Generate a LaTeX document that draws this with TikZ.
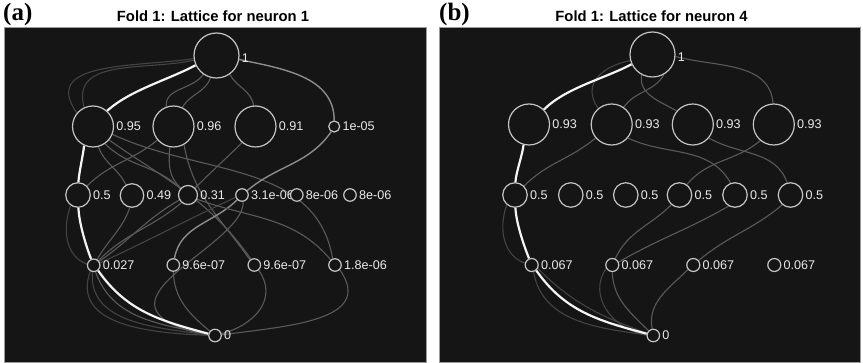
\documentclass[tikz,border=0pt]{standalone}
\usepackage{fontspec}
\setmainfont{Liberation Sans}
\newfontfamily\serifbold{Liberation Serif}
\definecolor{panelbg}{HTML}{151515}
\definecolor{panelborder}{HTML}{9A9A9A}
\definecolor{nodeline}{HTML}{C4C4C4}
\definecolor{lblcol}{HTML}{EAEAEA}
\definecolor{edgegray}{HTML}{5A5A5A}
\definecolor{edgebright}{HTML}{8C8C8C}
\definecolor{edgefaint}{HTML}{444444}
\definecolor{edgewhite}{HTML}{F4F4F4}
\pgfdeclarelayer{bglayer}
\pgfdeclarelayer{edgelayer}
\pgfsetlayers{bglayer,edgelayer,main}
\newcommand\mkn[4]{\node[nd=#2] (#1) at (#3) {};
  \node[lbl] (#1-l) at ([xshift=1.5pt]#1.east) {#4};}
\begin{document}
\begin{tikzpicture}[x=1pt,y=-1pt,
  panel/.style={fill=panelbg, draw=panelborder, line width=0.8pt},
  nd/.style={circle, draw=nodeline, fill=panelbg, line width=1.2pt, inner sep=0pt, minimum size=#1},
  lbl/.style={text=lblcol, font=\fontsize{12.6}{13}\selectfont, inner sep=0.5pt, anchor=west},
  ttl/.style={font=\bfseries\fontsize{14.8}{15}\selectfont, inner sep=0pt, anchor=base},
  tag/.style={font=\serifbold\bfseries\fontsize{25}{25}\selectfont, inner sep=0pt, anchor=base west},
  eg/.style={draw=edgegray, line width=1.1pt},
  eb/.style={draw=edgebright, line width=1.4pt},
  ef/.style={draw=edgefaint, line width=1.1pt},
  ew/.style={draw=edgewhite, line width=2.2pt}]
\useasboundingbox (0,0) rectangle (863,363);
\begin{pgfonlayer}{bglayer}
  \fill[white] (0,0) rectangle (863,363);
  \draw[panel] (3.9,27) rectangle (426,362.4);
  \draw[panel] (439.5,27) rectangle (860.5,362.4);
\end{pgfonlayer}
% titles
\node[tag] (taga) at (3,20.5) {(a)};
\node[ttl] (ttla) at (213,22) {Fold 1: Lattice for neuron 1};
\node[tag] (tagb) at (439,20.5) {(b)};
\node[ttl] (ttlb) at (651.5,22) {Fold 1: Lattice for neuron 4};
% ---------- panel (a) nodes ----------
\node[nd=45pt] (T) at (216.5,55.5) {};
\node[lbl] (T-l) at ([xshift=1.5pt,yshift=-2.5pt]T.east) {1};
\mkn{A1}{41pt}{93,126.5}{0.95}
\mkn{A2}{41pt}{173.5,126.5}{0.96}
\mkn{A3}{41pt}{255.5,126.5}{0.91}
\mkn{A4}{11pt}{334.2,126.5}{1e-05}
\mkn{B1}{24.5pt}{78,195}{0.5}
\mkn{B2}{23.5pt}{132,195.5}{0.49}
\mkn{B3}{19pt}{188,195}{0.31}
\mkn{B4}{12.5pt}{242,195}{3.1e-06}
\mkn{B5}{12.5pt}{296.8,195}{8e-06}
\mkn{B6}{12.5pt}{350,195}{8e-06}
\mkn{C1}{12.5pt}{93.7,265.3}{0.027}
\mkn{C2}{12.5pt}{173.3,265}{9.6e-07}
\mkn{C3}{12.5pt}{254.3,265}{9.6e-07}
\mkn{C4}{12.5pt}{335,265}{1.8e-06}
\mkn{Z}{12.5pt}{215,335.5}{0}
% ---------- panel (b) nodes ----------
\node[nd=45pt] (U) at (652.5,54.5) {};
\node[lbl] (U-l) at ([xshift=1.5pt,yshift=-2.5pt]U.east) {1};
\mkn{D1}{41pt}{529,124.5}{0.93}
\mkn{D2}{41pt}{611.7,124.5}{0.93}
\mkn{D3}{41pt}{692.8,124.5}{0.93}
\mkn{D4}{41pt}{773.8,124.5}{0.93}
\mkn{E1}{24.5pt}{515,195}{0.5}
\mkn{E2}{24.5pt}{570.8,195}{0.5}
\mkn{E3}{24.5pt}{625.8,195}{0.5}
\mkn{E4}{24.5pt}{679.5,195}{0.5}
\mkn{E5}{24.5pt}{735,195}{0.5}
\mkn{E6}{24.5pt}{790.5,195}{0.5}
\mkn{F1}{13pt}{531.7,265}{0.067}
\mkn{F2}{13pt}{612.3,265}{0.067}
\mkn{F3}{13pt}{693.3,265}{0.067}
\mkn{F4}{13pt}{774.3,265}{0.067}
\mkn{Y}{12.5pt}{653.3,335.5}{0}
% ---------- panel (a) edges ----------
\begin{pgfonlayer}{edgelayer}
% top level
\draw[ef] (T.188) to[out=188,in=125,looseness=1.25] (A1.140);
\draw[ef] (T.192) to[out=192,in=105,looseness=1.1] (A1.115);
\draw[eg] (T.235) to[out=235,in=95] (A2.110);
\draw[eg] (T.255) to[out=250,in=60] (A2.65);
\draw[eg] (T.-55) to[out=-60,in=100] (A3.95);
\draw[eb] (T.-10) to[out=-12,in=90] (A4.90);
% level 2 -> 3
\draw[eg] (A1.-75) to[out=-70,in=115] (B2.120);
\draw[eg] (A1.-55) to[out=-45,in=135] (B3.140);
\draw[eg] (A1.-40) to[out=-35,in=125] (C3.120);
\draw[eg] (A1.-22) to[out=-25,in=100] (C4.110);
\draw[eg] (A2.-140) to[out=-140,in=45] (B1.45);
\draw[eg] (A2.-100) to[out=-95,in=140] (B3.135);
\draw[eg] (A2.-60) to[out=-80,in=125] (C3.130);
\draw[eg] (A3.-130) to[out=-135,in=45] (B3.45);
\draw[eb] (A4.-120) to[out=-125,in=40] (B4.40);
% level 3 -> 4
\draw[ef] (B1.-125) to[out=-110,in=160] (C1.170);
\draw[eg] (B2.-100) to[out=-110,in=60] (C1.60);
\draw[eg] (B3.-150) to[out=-150,in=35] (C1.35);
\draw[eg] (B3.-130) to[out=-140,in=45] (C1.45);
\draw[ef] (B4.-160) to[out=-155,in=25] (C1.20);
\draw[eb] (B4.-135) to[out=-135,in=80] (C2.80);
\draw[eg] (B3.-25) to[out=-20,in=130] (C4.130);
\draw[eg] (B4.-80) .. controls +(2,45) and +(-139,-30) .. (Z.180);
% level 4 -> bottom
\draw[ef] (C1.-100) to[out=-95,in=172] (Z.175);
\draw[ef] (C1.-120) to[out=-110,in=178,looseness=1.1] (Z.178);
\draw[eg] (C1.-75) to[out=-70,in=168] (Z.170);
\draw[eg] (C2.-90) to[out=-88,in=140] (Z.140);
\draw[eg] (C3.-50) to[out=-55,in=15,looseness=1.2] (Z.15);
\draw[eg] (C4.-45) to[out=-55,in=8,looseness=1.2] (Z.5);
% white path
\draw[ew] (T.205) to[out=208,in=42,looseness=0.8] (A1.48);
\draw[ew] (A1.-115) to[out=-95,in=88,looseness=0.6] (B1.88);
\draw[ew] (B1.-88) to[out=-88,in=112,looseness=0.7] (C1.112);
\draw[ew] (C1.-50) to[out=-55,in=165] (Z.165);
% ---------- panel (b) edges ----------
\draw[ef] (U.195) to[out=192,in=125,looseness=1.3] (D2.130);
\draw[eg] (U.-60) to[out=-120,in=55] (D2.55);
\draw[eg] (U.-118) to[out=-100,in=150] (D3.140);
\draw[eg] (U.-5) to[out=-15,in=95] (D4.92);
\draw[eg] (D2.-140) to[out=-140,in=45] (E1.45);
\draw[eg] (D2.-40) to[out=-25,in=120] (E5.110);
\draw[eg] (D3.-40) to[out=-30,in=110] (E6.105);
\draw[eg] (D4.-130) to[out=-140,in=50] (E4.55);
\draw[ef] (E1.-130) to[out=-110,in=160] (F1.165);
\draw[eg] (E4.-130) to[out=-135,in=65] (F2.65);
\draw[eg] (E5.-120) to[out=-150,in=30] (F2.25);
\draw[eg] (E6.-130) to[out=-140,in=40] (F3.40);
\draw[ef] (F1.-75) to[out=-80,in=172] (Y.175);
\draw[ef] (F1.-30) to[out=-45,in=160] (Y.160);
\draw[eg] (F2.-90) to[out=-88,in=135] (Y.135);
\draw[ef] (F2.-150) to[out=-125,in=172,looseness=1.1] (Y.175);
\draw[eg] (F3.-140) to[out=-135,in=100] (Y.100);
\draw[ew] (U.205) to[out=208,in=45,looseness=0.8] (D1.45);
\draw[ew] (D1.-105) to[out=-95,in=88,looseness=0.6] (E1.88);
\draw[ew] (E1.-88) to[out=-88,in=112,looseness=0.7] (F1.112);
\draw[ew] (F1.-50) to[out=-55,in=165] (Y.165);
\end{pgfonlayer}
\end{tikzpicture}
\end{document}
